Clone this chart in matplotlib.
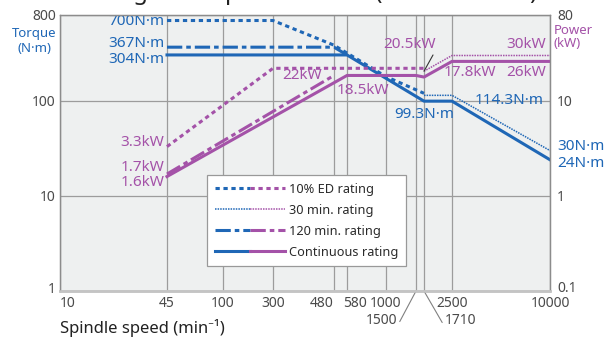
import numpy as np
import matplotlib
matplotlib.use("Agg")
import matplotlib.pyplot as plt
from matplotlib.legend_handler import HandlerTuple
from matplotlib.lines import Line2D
from matplotlib.ticker import FixedLocator, NullLocator
from matplotlib.transforms import ScaledTranslation

plt.rcParams["font.family"] = ["Noto Sans", "DejaVu Sans"]

BLUE = "#1f67b6"
PURPLE = "#a452a8"
GRID = "#9c9c9c"
BG = "#eef0f0"
TICK = "#4a4a4a"

# spindle speed ticks (min-1)
speed_ticks = [10, 45, 100, 300, 480, 580, 1000, 2500, 10000]
speed_marks = [1500, 1710]

# torque (N·m), left axis
ed10_torque_speed = [45, 300, 480, 1000, 1710]
ed10_torque = [700, 700, 385, 180, 120]
min30_torque_speed = [1710, 2500, 10000]
min30_torque = [114.3, 114.3, 30]
min120_torque_speed = [45, 480, 580]
min120_torque = [367, 367, 304]
cont_torque_speed = [45, 580, 1710, 2500, 10000]
cont_torque = [304, 304, 99.3, 99.3, 24]

# power (kW), right axis
ed10_power_speed = [45, 300, 1710]
ed10_power = [3.3, 22, 22]
min30_power_speed = [1710, 2500, 10000]
min30_power = [20.5, 30, 30]
min120_power_speed = [45, 480]
min120_power = [1.7, 18.5]
cont_power_speed = [45, 580, 1500, 1710, 2500, 10000]
cont_power = [1.6, 18.5, 18.5, 17.8, 26, 26]

torque_ticks = [1, 10, 100, 800]
power_ticks = [0.1, 1, 10, 80]
legend_labels = ["10% ED rating", "30 min. rating", "120 min. rating", "Continuous rating"]

# the printed speed axis is not a clean log axis, so it is rebuilt piecewise
_axis_speeds = np.log10([10, 45, 100, 300, 480, 580, 1000, 1500, 1710, 2500, 10000])
_axis_pos = np.array([0, 107, 163, 213, 274, 287, 326, 356, 364, 392, 490], float)


def speed_fwd(x):
    x = np.clip(np.asarray(x, float), 1e-6, None)
    return np.interp(np.log10(x), _axis_speeds, _axis_pos)


def speed_inv(p):
    return 10 ** np.interp(np.asarray(p, float), _axis_pos, _axis_speeds)


def nudge(label, dx, dy):
    label.set_transform(label.get_transform() + ScaledTranslation(dx / 72, dy / 72, fig.dpi_scale_trans))


styles = {
    "ed10": dict(lw=2.2, ls=(0, (1.4, 1.2))),
    "min30": dict(lw=1.1, ls=(0, (1.0, 0.7))),
    "min120": dict(lw=2.2, ls=(0, (5.0, 1.3, 1.5, 1.3))),
    "cont": dict(lw=2.2, ls="-"),
}

fig = plt.figure(figsize=(6.08, 3.37), dpi=100)
ax = fig.add_axes([60 / 608, 1 - 291 / 337, 490 / 608, 276 / 337])
ax.set_facecolor(BG)
ax.set_xscale("function", functions=(speed_fwd, speed_inv))
ax.set_xlim(10, 10000)
ax.set_yscale("log")
ax.set_ylim(1, 800)

ax2 = ax.twinx()
ax2.set_yscale("log")
ax2.set_ylim(0.1, 80)

ax.xaxis.set_major_locator(FixedLocator(speed_ticks))
ax.xaxis.set_minor_locator(FixedLocator(speed_marks))
ax.set_xticklabels([str(s) for s in speed_ticks])
ax.set_yticks(torque_ticks, labels=[str(t) for t in torque_ticks])
ax.yaxis.set_minor_locator(NullLocator())
ax2.set_yticks(power_ticks, labels=[str(t) for t in power_ticks])
ax2.yaxis.set_minor_locator(NullLocator())

ax.grid(True, axis="x", which="both", color=GRID, lw=0.9)
ax.grid(True, axis="y", which="major", color=GRID, lw=0.9)
ax.set_axisbelow(True)

for a in (ax, ax2):
    a.tick_params(which="both", length=0, labelsize=10, labelcolor=TICK)
    for sp in a.spines.values():
        sp.set_color("#8c8c8c")
        sp.set_linewidth(0.9)
    a.spines["bottom"].set_color("#c4c4c4")
    a.spines["bottom"].set_linewidth(1.8)
ax.tick_params(axis="x", pad=3.5)
ax.tick_params(axis="y", pad=3)
ax2.tick_params(axis="y", pad=5)

xlabels = ax.get_xticklabels()
xlabels[0].set_ha("left")
xlabels[4].set_ha("right")
xlabels[5].set_ha("left")
nudge(xlabels[5], -3, 0)
nudge(ax.get_yticklabels()[0], 0, 2.5)
nudge(ax2.get_yticklabels()[0], 0, 3)

# torque curves
ax.plot(ed10_torque_speed, ed10_torque, color=BLUE, **styles["ed10"])
ax.plot(min30_torque_speed, min30_torque, color=BLUE, **styles["min30"])
ax.plot(min120_torque_speed, min120_torque, color=BLUE, **styles["min120"])
ax.plot(cont_torque_speed, cont_torque, color=BLUE, **styles["cont"])

# power curves
ax2.plot(ed10_power_speed, ed10_power, color=PURPLE, **styles["ed10"])
ax2.plot(min30_power_speed, min30_power, color=PURPLE, **styles["min30"])
ax2.plot(min120_power_speed, min120_power, color=PURPLE, **styles["min120"])
ax2.plot(cont_power_speed, cont_power, color=PURPLE, **styles["cont"])

lab = dict(textcoords="offset points", fontsize=11, va="center")
ax.annotate("700N·m", xy=(45, 700), xytext=(-2, -1), ha="right", color=BLUE, **lab)
ax.annotate("367N·m", xy=(45, 367), xytext=(-2, 3), ha="right", color=BLUE, **lab)
ax.annotate("304N·m", xy=(45, 304), xytext=(-2, -3.5), ha="right", color=BLUE, **lab)
ax.annotate("99.3N·m", xy=(1710, 99.3), xytext=(0, -9.5), ha="center", color=BLUE, **lab)
ax.annotate("114.3N·m", xy=(2500, 114.3), xytext=(16, -3.5), ha="left", color=BLUE, **lab)
ax.annotate("30N·m", xy=(10000, 30), xytext=(5, 2.7), ha="left", color=BLUE,
            annotation_clip=False, **lab)
ax.annotate("24N·m", xy=(10000, 24), xytext=(5, -2.9), ha="left", color=BLUE,
            annotation_clip=False, **lab)

ax2.annotate("3.3kW", xy=(45, 3.3), xytext=(-2, 3), ha="right", color=PURPLE, **lab)
ax2.annotate("1.7kW", xy=(45, 1.7), xytext=(-2, 4.5), ha="right", color=PURPLE, **lab)
ax2.annotate("1.6kW", xy=(45, 1.6), xytext=(-2, -4.5), ha="right", color=PURPLE, **lab)
ax2.annotate("22kW", xy=(300, 22), xytext=(6.5, -5.5), ha="left", color=PURPLE, **lab)
ax2.annotate("18.5kW", xy=(480, 18.5), xytext=(2, -11), ha="left", color=PURPLE, **lab)
ax2.annotate("17.8kW", xy=(1710, 17.8), xytext=(14.4, 3), ha="left", color=PURPLE, **lab)
ax2.annotate("30kW", xy=(10000, 30), xytext=(-3, 7.7), ha="right", color=PURPLE, **lab)
ax2.annotate("26kW", xy=(10000, 26), xytext=(-3, -8.2), ha="right", color=PURPLE, **lab)
ax2.annotate("20.5kW", xy=(1710, 20.5), xytext=(-29.5, 13.7), textcoords="offset points",
             fontsize=11, ha="left", va="bottom", color=PURPLE,
             arrowprops=dict(arrowstyle="-", color="#333333", lw=0.8, relpos=(0, 0),
                             shrinkA=0, shrinkB=0,
                             connectionstyle="angle,angleA=0,angleB=61,rad=0"))

# speeds called out under the axis
ax.annotate("1500", xy=(1500, 0), xycoords=("data", "axes fraction"), xytext=(-13.7, -26.5),
            textcoords="offset points", fontsize=10, ha="right", va="bottom", color=TICK,
            annotation_clip=False,
            arrowprops=dict(arrowstyle="-", color="#808080", lw=0.8, relpos=(0, 0),
                            shrinkA=0, shrinkB=0,
                            connectionstyle="angle,angleA=0,angleB=62,rad=0"))
ax.annotate("1710", xy=(1710, 0), xycoords=("data", "axes fraction"), xytext=(15.1, -26.5),
            textcoords="offset points", fontsize=10, ha="left", va="bottom", color=TICK,
            annotation_clip=False,
            arrowprops=dict(arrowstyle="-", color="#808080", lw=0.8, relpos=(1, 0),
                            shrinkA=0, shrinkB=0,
                            connectionstyle="angle,angleA=0,angleB=120,rad=0"))

handles = []
for key in ["ed10", "min30", "min120", "cont"]:
    handles.append((Line2D([], [], color=BLUE, **styles[key]),
                    Line2D([], [], color=PURPLE, **styles[key])))
leg = ax2.legend(handles, legend_labels, loc="upper left", bbox_to_anchor=(0.30, 0.42),
                 borderaxespad=0, fontsize=9.2, handlelength=5.5, handletextpad=0.3,
                 labelspacing=0.62, borderpad=0.6, fancybox=False, framealpha=1,
                 edgecolor="#999999", handler_map={tuple: HandlerTuple(ndivide=None, pad=0)})
leg.get_frame().set_linewidth(0.9)
for t in leg.get_texts():
    t.set_color("#2a2a2a")

fig.text(34 / 608, 1 - 41 / 337, "Torque\n(N·m)", color=BLUE, fontsize=9.5,
         ha="center", va="center", linespacing=1.1)
fig.text(554 / 608, 1 - 37 / 337, "Power\n(kW)", color=PURPLE, fontsize=9.5,
         ha="left", va="center", linespacing=1.0)
fig.text(60 / 608, 1 - 328 / 337, "Spindle speed (min⁻¹)", color="#222222", fontsize=12,
         ha="left", va="center")
# title sits above the visible area, only its descenders show, as in the source
fig.text(112 / 608, 1 + 0.5 / 337, "Big-bore spindle motor (standard size)", color="#222222",
         fontsize=17, ha="left", va="baseline")

fig.savefig("out.png", dpi=100, facecolor="white")
